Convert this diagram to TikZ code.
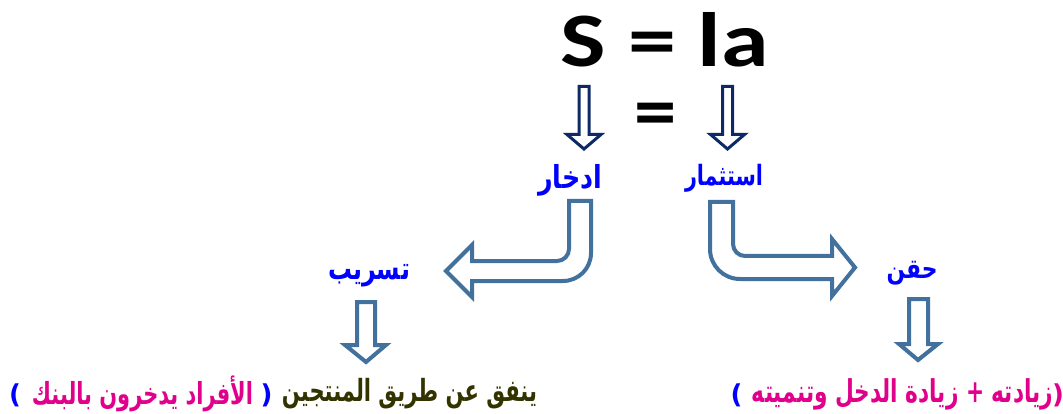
\documentclass[tikz,border=0pt]{standalone}
\usepackage{fontspec}
\usepackage{graphicx}
\TeXXeTstate=1
\newfontfamily\arabicfont[Script=Arabic]{DejaVu Sans}
\newfontfamily\titlefont{Carlito}
\definecolor{navyarrow}{HTML}{0E2A66}
\definecolor{steel}{HTML}{41719C}
\definecolor{pinktext}{HTML}{E0008C}
\definecolor{olivetext}{HTML}{333300}
\definecolor{bluetext}{HTML}{0000FF}
% #1 vertical stretch, #2 width, #3 text
\newcommand{\artext}[3]{\scalebox{1}[#1]{\resizebox{#2}{!}{\arabicfont\bfseries #3}}}
\begin{document}
\begin{tikzpicture}[x=1pt,y=-1pt,
  navyarr/.style={draw=navyarrow,line width=3pt,fill=white,line join=miter},
  steelarr/.style={draw=steel,line width=4pt,fill=white,line join=miter},
  lbl/.style={inner sep=0pt,anchor=center},
  titletext/.style={inner sep=0pt,anchor=base,font=\titlefont\bfseries\fontsize{77}{77}\selectfont},
  paren/.style={inner sep=0pt,anchor=center,text=bluetext,font=\arabicfont\bfseries\fontsize{26}{26}\selectfont}]
\useasboundingbox (0,0) rectangle (1063,414);
% title
\node[titletext,text depth=0pt] (title) at (665,67) {\scalebox{1.25}[1]{S = la}};
\node[titletext,text height=38pt] (eq) at (656,138) {\scalebox{1.1}[1]{=}};
% top arrows
\draw[navyarr] (579,86.5) -- (589,86.5) -- (589,134.5) -- (601,134.5) -- (584,149) -- (567,134.5) -- (579,134.5) -- cycle;
\draw[navyarr] (722.5,86.5) -- (732.5,86.5) -- (732.5,134.5) -- (744.5,134.5) -- (727.5,149) -- (710.5,134.5) -- (722.5,134.5) -- cycle;
% labels
\node[lbl,text=bluetext] (saving) at (570,180) {\artext{1.25}{64pt}{\beginR ادخار\endR}};
\node[lbl,text=bluetext] (invest) at (724,178) {\artext{1.35}{78pt}{\beginR استثمار\endR}};
\node[lbl,text=bluetext] (leak) at (369,276) {\artext{1.3}{82pt}{\beginR تسريب\endR}};
\node[lbl,text=bluetext] (inject) at (912,273) {\artext{1.25}{51pt}{\beginR حقن\endR}};
% bent arrows
\draw[steelarr] (569,201) -- (591,201) -- (591,253)
  .. controls (591,268.5) and (578.5,281) .. (563,281)
  -- (472,281) -- (472,297) -- (446,271) -- (472,245) -- (472,261) -- (557,261)
  .. controls (563.6,261) and (569,255.6) .. (569,249) -- cycle;
\draw[steelarr] (710,202) -- (733,202) -- (733,244)
  .. controls (733,250.6) and (738.4,256) .. (745,256)
  -- (832,256) -- (832,239) -- (855,267.5) -- (832,296) -- (832,279) -- (740,279)
  .. controls (723.4,279) and (710,265.6) .. (710,249) -- cycle;
% small down arrows
\draw[steelarr] (357,302) -- (375,302) -- (375,345) -- (386,345) -- (366,362) -- (345,345) -- (357,345) -- cycle;
\draw[steelarr] (909,299) -- (928,299) -- (928,344) -- (938,344) -- (918,360) -- (899,344) -- (909,344) -- cycle;
% bottom texts
\node[paren] (lp1) at (15,395) {)};
\node[lbl,text=pinktext] (banks) at (142.5,394) {\artext{1.45}{221pt}{\beginR الأفراد يدخرون بالبنك\endR}};
\node[paren] (rp1) at (266.5,395) {(};
\node[lbl,text=olivetext] (spend) at (409.5,394) {\artext{1.45}{255pt}{\beginR ينفق عن طريق المنتجين\endR}};
\node[paren] (lp2) at (736.5,395) {)};
\node[lbl,text=pinktext] (growth) at (902.5,394) {\artext{1.45}{301pt}{\beginR زيادته + زيادة الدخل وتنميته\endR}};
\node[paren,text=pinktext] (rp2) at (1058,395) {(};
\end{tikzpicture}
\end{document}
